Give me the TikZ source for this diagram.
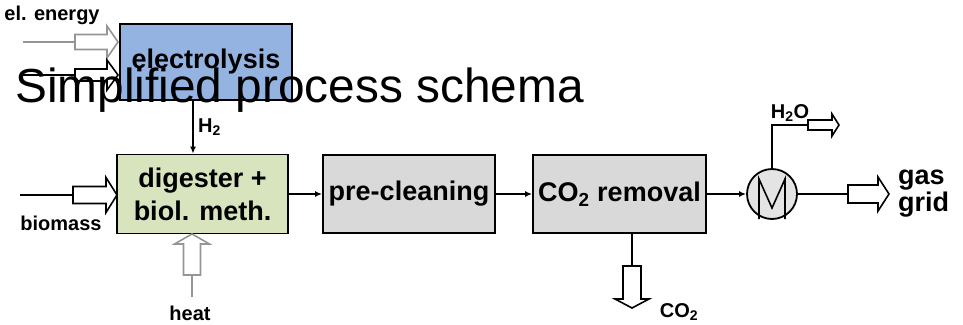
\documentclass[tikz,border=0pt]{standalone}
\usepackage{fontspec}
\setmainfont{Liberation Sans}
\usetikzlibrary{arrows.meta,positioning}

\definecolor{elblue}{HTML}{95B3E0}
\definecolor{diggreen}{HTML}{D7E4BD}
\definecolor{boxgray}{HTML}{D9D9D9}
\definecolor{coolgray}{HTML}{E4E4E4}
\definecolor{feedgray}{HTML}{959595}

\tikzset{
  pics/blockarrow/.style n args={4}{code={%
    \draw[pic actions,line width=1.6pt,fill=white,line join=miter]
      (0,-#2) -- (#1-#4,-#2) -- (#1-#4,-#3) -- (#1,0) -- (#1-#4,#3) -- (#1-#4,#2) -- (0,#2) -- cycle;}}
}

\begin{document}
\begin{tikzpicture}[
  x=1pt,y=-1pt,
  box/.style={draw,line width=1.8pt,minimum width=172pt,minimum height=78pt,inner sep=0pt,
              align=center,font=\fontsize{27}{33}\selectfont\bfseries},
  arrow/.style={-{Latex[length=7pt,width=6pt]},line width=1.5pt},
  line/.style={line width=1.5pt},
  lbl/.style={inner sep=0pt,font=\fontsize{20}{22}\selectfont\bfseries}
]
\useasboundingbox (0,0) rectangle (963,324);

% process units
\node[box,fill=elblue,minimum height=76pt] (elec) at (206,62) {electrolysis};
\node[box,fill=diggreen,minimum width=171pt,minimum height=79pt] (dig) at (202.5,194) {digester +\\biol. meth.};
\node[box,fill=boxgray] (pre) at (409,194) {pre-cleaning};
\node[box,fill=boxgray,minimum width=173pt] (co2rem) at (619.5,194) {CO\textsubscript{2} removal};
\node[draw,circle,line width=1.8pt,fill=coolgray,minimum size=50pt,inner sep=0pt] (cool) at (772,194) {};
\draw[line width=1.6pt] ([shift={(-13,25)}]cool.center) -- ++(0,-40) -- ++(13,29) -- ++(13,-29) -- ++(0,40);

% feeds
\coordinate (eeS) at (23,42);
\coordinate (eeA) at (75,42);
\draw[line,feedgray] (eeS) -- (eeA);
\pic[draw=feedgray] at (eeA) {blockarrow={43}{7.5}{16}{11}};
\node[lbl] (eelbl) at (52,15) {el. energy};

\coordinate (e2S) at (23,75);
\coordinate (e2A) at (75,75);
\draw[line] (e2S) -- (e2A);
\pic[draw=black] at (e2A) {blockarrow={43}{6}{15}{11}};

\coordinate (bioS) at (20,195);
\coordinate (bioA) at (73,195);
\draw[line] (bioS) -- (bioA);
\pic[draw=black] at (bioA) {blockarrow={44}{8.5}{17.5}{11}};
\node[lbl] (biolbl) at (61,223) {biomass};

\coordinate (heatS) at (192,297);
\coordinate (heatA) at (192,275);
\draw[line,feedgray] (heatS) -- (heatA);
\pic[draw=feedgray,rotate=90] at (heatA) {blockarrow={41}{8.5}{17.5}{10}};
\node[lbl] (heatlbl) at (190,313) {heat};

% main line
\draw[arrow] ([xshift=-13pt]elec.south) -- ([xshift=-13pt]elec.south |- dig.north);
\node[lbl,anchor=west] (h2lbl) at (198,127) {H\textsubscript{2}};
\draw[arrow] (dig) -- (pre);
\draw[arrow] (pre) -- (co2rem);
\draw[arrow] (co2rem) -- (cool);

% products
\coordinate (co2A) at (632,266);
\draw[line] (co2rem.south -| co2A) -- (co2A);
\pic[draw=black,rotate=-90] at (co2A) {blockarrow={42}{9}{17}{9}};
\node[lbl] (co2lbl) at (679,312) {CO\textsubscript{2}};

\coordinate (h2oA) at (808,125);
\draw[line] (cool.north) |- (h2oA);
\pic[draw=black] at (h2oA) {blockarrow={31}{5}{11}{7}};
\node[lbl] (h2olbl) at (790,113) {H\textsubscript{2}O};

\coordinate (gridA) at (848,194);
\draw[line] (cool.east) -- (gridA);
\pic[draw=black] at (gridA) {blockarrow={41}{9}{17}{11}};
\node[inner sep=0pt,anchor=west,align=left,font=\fontsize{27}{27}\selectfont\bfseries] (gridlbl) at (898,194) {gas\\grid};

% title
\node[inner sep=0pt,anchor=base west,font=\fontsize{47.8}{50}\selectfont] (title) at (15,102) {Simplified process schema};
\end{tikzpicture}
\end{document}
